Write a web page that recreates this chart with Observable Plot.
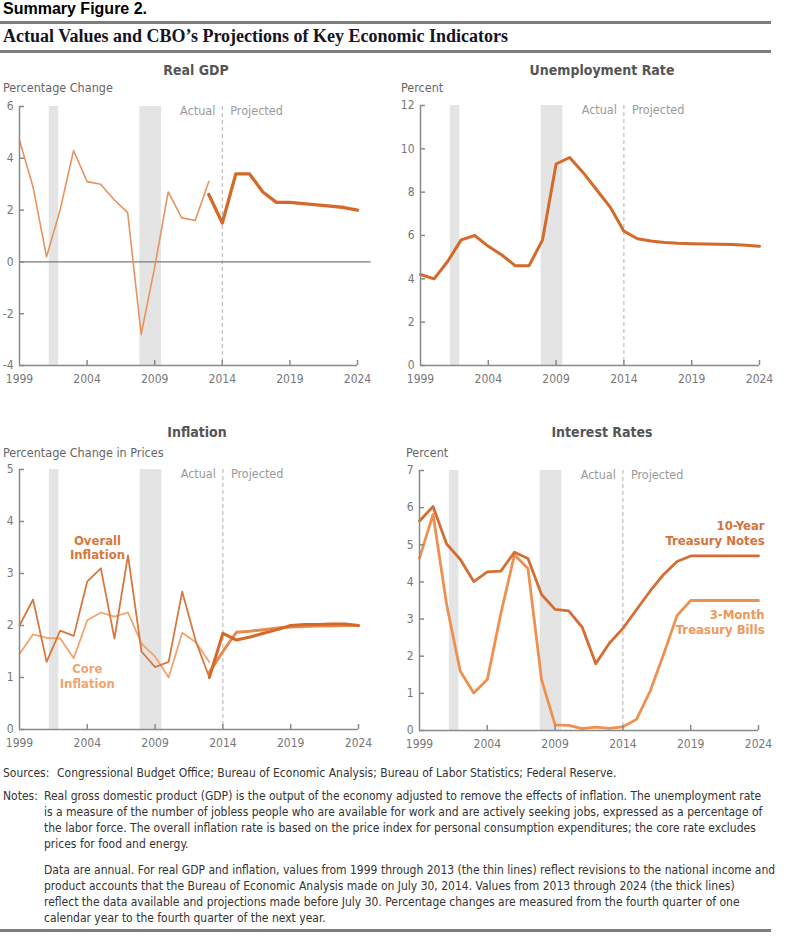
<!DOCTYPE html>
<html>
<head>
<meta charset="utf-8">
<script src="https://cdn.jsdelivr.net/npm/d3@7"></script>
<script src="https://cdn.jsdelivr.net/npm/@observablehq/plot@0.6"></script>
<style>
  html, body { margin: 0; padding: 0; background: #fff; }
  #root { position: relative; width: 792px; height: 944px; overflow: hidden; font-family: "Liberation Sans Narrow", "DejaVu Sans Condensed", "Roboto Condensed", "Arial Narrow", sans-serif; }
  .abs { position: absolute; white-space: nowrap; }
  .rule { position: absolute; left: 0; width: 771px; background: #7d7d7d; }
  .ptitle { font-weight: bold; font-size: 14px; color: #555; transform: translate(-50%, -50%); }
  .unit { font-size: 12.5px; color: #666; transform: translateY(-50%); }
  .foot { font-size: 12px; color: #333; line-height: 16px; }
</style>
</head>
<body>
<div id="root"></div>
<script>
// ---------- data ----------
const actualYears = [1999,2000,2001,2002,2003,2004,2005,2006,2007,2008,2009,2010,2011,2012,2013];
const projYears = [2013,2014,2015,2016,2017,2018,2019,2020,2021,2022,2023,2024];
const allYears = [1999,2000,2001,2002,2003,2004,2005,2006,2007,2008,2009,2010,2011,2012,2013,2014,2015,2016,2017,2018,2019,2020,2021,2022,2023,2024];
const xTickYears = [1999,2004,2009,2014,2019,2024];

const gdpActual = [4.7,2.9,0.2,2.0,4.3,3.1,3.0,2.4,1.9,-2.8,-0.2,2.7,1.7,1.6,3.1];
const gdpProj = [2.6,1.5,3.4,3.4,2.7,2.3,2.3,2.25,2.2,2.15,2.1,2.0];

const unemployment = [4.2,4.0,4.8,5.8,6.0,5.5,5.1,4.6,4.6,5.8,9.3,9.6,8.9,8.1,7.3,6.2,5.85,5.75,5.68,5.64,5.62,5.61,5.6,5.58,5.55,5.5];

const overallActual = [2.0,2.5,1.3,1.9,1.8,2.85,3.1,1.75,3.35,1.5,1.2,1.3,2.65,1.7,1.0];
const coreActual = [1.45,1.83,1.76,1.75,1.37,2.1,2.25,2.17,2.25,1.65,1.4,1.0,1.86,1.68,1.3];
const overallProj = [1.0,1.85,1.72,1.78,1.85,1.92,2.0,2.02,2.02,2.03,2.03,2.0];
const coreProj = [1.1,1.5,1.87,1.89,1.92,1.95,1.97,1.98,1.99,1.99,2.0,2.0];

const tenYear = [5.64,6.03,5.02,4.61,4.01,4.27,4.29,4.8,4.63,3.66,3.26,3.22,2.78,1.8,2.35,2.75,3.25,3.75,4.2,4.55,4.7,4.7,4.7,4.7,4.7,4.7];
const threeMonth = [4.64,5.82,3.39,1.6,1.01,1.37,3.15,4.73,4.36,1.37,0.15,0.14,0.05,0.09,0.06,0.1,0.3,1.05,2.05,3.1,3.5,3.5,3.5,3.5,3.5,3.5];

const recessions = [{start: 2001.2, end: 2001.9}, {start: 2007.9, end: 2009.5}];
const divider = [2014];

// ---------- styles ----------
const FONT = '"Liberation Sans Narrow", "DejaVu Sans Condensed", "Roboto Condensed", "Arial Narrow", sans-serif';
const AXIS = "#8a8a8a";
const TICKTXT = "#777";
const ORANGE_DARK = "#d4692a";
const ORANGE_THIN = "#e8935e";
const OVERALL = "#d9783e";
const CORE = "#f2a46e";

const zip = (xs, ys) => xs.map((x, i) => ({x, y: ys[i]}));

function basePanel({yDomain, yTicks, margins, extra}) {
  return Plot.plot({
    width: 396,
    height: 300,
    marginLeft: margins[0], marginRight: margins[1], marginTop: margins[2], marginBottom: margins[3],
    x: {domain: [1999, 2024]},
    y: {domain: yDomain},
    style: {fontFamily: FONT, fontSize: "12px", color: TICKTXT, background: "transparent", overflow: "visible"},
    marks: [
      Plot.rect(recessions, {x1: "start", x2: "end", fill: "#e4e4e4"}),
      Plot.ruleX(divider, {stroke: "#b0b0b0", strokeDasharray: "4,3", strokeWidth: 1}),
      Plot.text(["Actual"], {x: () => divider[0], frameAnchor: "top", lineAnchor: "middle", textAnchor: "end", dx: -7, dy: 4, fill: "#9a9a9a", fontSize: 12.5}),
      Plot.text(["Projected"], {x: () => divider[0], frameAnchor: "top", lineAnchor: "middle", textAnchor: "start", dx: 8, dy: 4, fill: "#9a9a9a", fontSize: 12.5}),
      ...extra,
      Plot.ruleX([1999], {stroke: AXIS, strokeWidth: 1.5}),
      Plot.ruleY([yDomain[0]], {stroke: AXIS, strokeWidth: 1.5}),
      Plot.axisY({ticks: yTicks, tickSize: 0, tickPadding: 6, tickFormat: d => String(d), label: null, fill: TICKTXT, fontSize: 12}),
      Plot.axisY({ticks: yTicks, tickSize: -5, tickFormat: () => "", label: null, stroke: AXIS, strokeWidth: 1.5}),
      Plot.axisX({ticks: xTickYears, tickSize: 0, tickPadding: 9, tickFormat: d => String(d), label: null, fill: TICKTXT, fontSize: 12}),
      Plot.axisX({ticks: xTickYears.slice(1), tickSize: -5, tickFormat: () => "", label: null, stroke: AXIS, strokeWidth: 1.5})
    ]
  });
}

const root = document.getElementById("root");
function place(el, left, top) {
  el.style.position = "absolute";
  el.style.left = left + "px";
  el.style.top = top + "px";
  root.appendChild(el);
}
function addDiv(cls, html, left, top, extraStyle) {
  const d = document.createElement("div");
  d.className = "abs " + cls;
  d.innerHTML = html;
  d.style.left = left + "px";
  d.style.top = top + "px";
  if (extraStyle) Object.assign(d.style, extraStyle);
  root.appendChild(d);
  return d;
}

// ---------- header ----------
addDiv("", "Summary Figure 2.", 3, 0, {font: "900 16px 'Liberation Sans', Arial, sans-serif", color: "#000"});
addDiv("rule", "", 0, 21, {height: "3px"});
addDiv("", "Actual Values and CBO\u2019s Projections of Key Economic Indicators", 3, 26, {font: "bold 18px 'Liberation Serif', 'DejaVu Serif', serif", color: "#141425"});
addDiv("rule", "", 0, 50, {height: "2.5px"});

// ---------- panel: Real GDP ----------
addDiv("ptitle", "Real GDP", 196, 70);
addDiv("unit", "Percentage Change", 3, 87);
place(basePanel({
  yDomain: [-4, 6], yTicks: [-4,-2,0,2,4,6], margins: [19, 39, 10, 31],
  extra: [
    Plot.ruleY([0], {x1: 1999, x2: 2025, stroke: "#7a7a7a", strokeWidth: 1.2}),
    Plot.line(zip(actualYears, gdpActual), {x: "x", y: "y", stroke: ORANGE_THIN, strokeWidth: 1.6}),
    Plot.line(zip(projYears, gdpProj), {x: "x", y: "y", stroke: ORANGE_DARK, strokeWidth: 3.3})
  ]
}), 0, 96);

// ---------- panel: Unemployment ----------
addDiv("ptitle", "Unemployment Rate", 602, 70);
addDiv("unit", "Percent", 401, 87);
place(basePanel({
  yDomain: [0, 12], yTicks: [0,2,4,6,8,10,12], margins: [24, 33, 10, 30],
  extra: [
    Plot.line(zip(allYears, unemployment), {x: "x", y: "y", stroke: ORANGE_DARK, strokeWidth: 3})
  ]
}), 396, 95);

// ---------- panel: Inflation ----------
addDiv("ptitle", "Inflation", 197, 432);
addDiv("unit", "Percentage Change in Prices", 3, 452);
place(basePanel({
  yDomain: [0, 5], yTicks: [0,1,2,3,4,5], margins: [19, 38, 10, 30],
  extra: [
    Plot.line(zip(actualYears, coreActual), {x: "x", y: "y", stroke: CORE, strokeWidth: 1.8}),
    Plot.line(zip(actualYears, overallActual), {x: "x", y: "y", stroke: OVERALL, strokeWidth: 1.8}),
    Plot.line(zip(projYears, coreProj), {x: "x", y: "y", stroke: "#e88a4e", strokeWidth: 3}),
    Plot.line(zip(projYears, overallProj), {x: "x", y: "y", stroke: ORANGE_DARK, strokeWidth: 3}),
    Plot.text(["Overall\nInflation"], {x: () => 2004.75, y: () => 3.5, fill: OVERALL, fontWeight: "bold", fontSize: 13, lineHeight: 1.12}),
    Plot.text(["Core\nInflation"], {x: () => 2004.0, y: () => 1.03, fill: CORE, fontWeight: "bold", fontSize: 13, lineHeight: 1.12})
  ]
}), 0, 459);

// ---------- panel: Interest Rates ----------
addDiv("ptitle", "Interest Rates", 602, 432);
addDiv("unit", "Percent", 406, 452);
place(basePanel({
  yDomain: [0, 7], yTicks: [0,1,2,3,4,5,6,7], margins: [23, 34, 10, 30],
  extra: [
    Plot.line(zip(allYears, threeMonth), {x: "x", y: "y", stroke: "#ef9050", strokeWidth: 2.8}),
    Plot.line(zip(allYears, tenYear), {x: "x", y: "y", stroke: "#d46e32", strokeWidth: 2.8}),
    Plot.text(["10-Year\nTreasury Notes"], {x: () => 2024.45, y: () => 5.32, textAnchor: "end", fill: "#d4733a", fontWeight: "bold", fontSize: 13, lineHeight: 1.1}),
    Plot.text(["3-Month\nTreasury Bills"], {x: () => 2024.45, y: () => 2.92, textAnchor: "end", fill: "#f0975c", fontWeight: "bold", fontSize: 13, lineHeight: 1.1})
  ]
}), 396, 460);

// ---------- footer ----------
addDiv("foot", "Sources:", 3, 765);
addDiv("foot", "Congressional Budget Office; Bureau of Economic Analysis; Bureau of Labor Statistics; Federal Reserve.", 57, 765);
addDiv("foot", "Notes:", 3, 788);
addDiv("foot",
  "Real gross domestic product (GDP) is the output of the economy adjusted to remove the effects of inflation. The unemployment rate<br>" +
  "is a measure of the number of jobless people who are available for work and are actively seeking jobs, expressed as a percentage of<br>" +
  "the labor force. The overall inflation rate is based on the price index for personal consumption expenditures; the core rate excludes<br>" +
  "prices for food and energy.", 44, 788);
addDiv("foot",
  "Data are annual. For real GDP and inflation, values from 1999 through 2013 (the thin lines) reflect revisions to the national income and<br>" +
  "product accounts that the Bureau of Economic Analysis made on July 30, 2014. Values from 2013 through 2024 (the thick lines)<br>" +
  "reflect the data available and projections made before July 30. Percentage changes are measured from the fourth quarter of one<br>" +
  "calendar year to the fourth quarter of the next year.", 44, 862);
addDiv("rule", "", 0, 929, {height: "3px"});
</script>
</body>
</html>
